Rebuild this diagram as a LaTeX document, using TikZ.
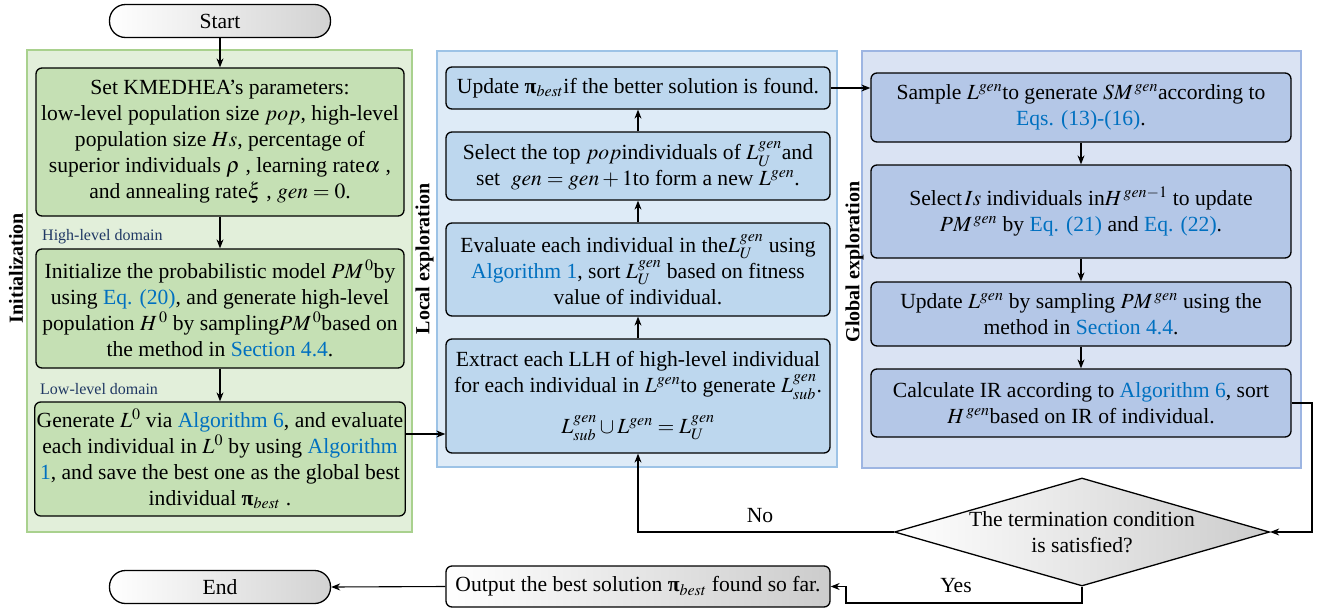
\documentclass[tikz,border=0pt]{standalone}
\usepackage{mathptmx}
\usepackage{fontspec}
\setmainfont{Liberation Serif}
\usetikzlibrary{shapes.geometric,arrows.meta}
\definecolor{gpanel}{HTML}{E2EFDA}
\definecolor{gborder}{HTML}{A9D18E}
\definecolor{gfill}{HTML}{C5E0B4}
\definecolor{mpanel}{HTML}{DEEBF7}
\definecolor{mborder}{HTML}{9DC3E6}
\definecolor{mfill}{HTML}{BDD7EE}
\definecolor{rpanel}{HTML}{DAE3F3}
\definecolor{rborder}{HTML}{9DB5E2}
\definecolor{rfill}{HTML}{B4C7E7}
\definecolor{linkblue}{HTML}{0070C0}
\definecolor{domblue}{HTML}{203864}
\newcommand{\lnk}[1]{\textcolor{linkblue}{#1}}
\newcommand{\bpi}{\mbox{\bfseries π}}
\newcommand{\bodyfont}{\fontsize{21.6}{26}\selectfont}
\begin{document}
\begin{tikzpicture}[x=1pt,y=-1pt,
  box/.style={draw=black, line width=1.3pt, rounded corners=6pt, align=center, inner sep=2pt, font=\bodyfont},
  gbox/.style={box, fill=gfill, minimum width=368pt},
  mbox/.style={box, fill=mfill, minimum width=384pt},
  rbox/.style={box, fill=rfill, minimum width=420pt},
  term/.style={draw=black, line width=1.3pt, rounded corners=16pt, left color=white, right color=gray!35, font=\bodyfont, minimum width=221pt, minimum height=33pt, inner sep=0pt},
  panel/.style={line width=2pt},
  ptitle/.style={rotate=90, font=\fontsize{20}{24}\selectfont\bfseries},
  dom/.style={anchor=west, text=domblue, font=\fontsize{16}{19}\selectfont, inner sep=0pt},
  lbl/.style={font=\bodyfont, inner sep=0pt},
  arr/.style={-{Stealth[length=9pt,width=7pt]}, line width=1.1pt}
]
\useasboundingbox (0,0) rectangle (1318,611);
% panels
\draw[panel, draw=gborder, fill=gpanel] (27,50) rectangle (412,532);
\draw[panel, draw=mborder, fill=mpanel] (437,51) rectangle (837,467);
\draw[panel, draw=rborder, fill=rpanel] (862,51) rectangle (1301,468);
\node[ptitle] (tinit) at (16,268) {Initialization};
\node[ptitle] (tlocal) at (424.5,259) {Local exploration};
\node[ptitle] (tglobal) at (854.5,262) {Global exploration};
% left column
\node[term] (start) at (220,21) {Start};
\node[gbox, minimum height=148pt] (g1) at (220,142) {Set KMEDHEA's parameters:\\ low-level population size $pop$, high-level\\ population size $Hs$, percentage of\\ superior individuals $\rho$ , learning rate$\alpha$ ,\\ and annealing rate$\xi$ , $gen=0$.};
\node[dom] (hd) at (42,237) {High-level domain};
\node[gbox, minimum height=119pt] (g2) at (220,308.5) {Initialize the probabilistic model $PM^{\,0}$by\\ using \lnk{Eq. (20)}, and generate high-level\\ population $H^{\,0}$ by sampling$PM^{\,0}$based on\\ the method in \lnk{Section 4.4}.};
\node[dom] (ld) at (40,389) {Low-level domain};
\node[gbox, minimum height=114pt] (g3) at (220,459) {Generate $L^0$ via \lnk{Algorithm 6}, and evaluate\\ each individual in $L^0$ by using \lnk{Algorithm}\\ \lnk{1}, and save the best one as the global best\\ individual $\bpi_{best}$ .};
\node[term] (end) at (220,587) {End};
% middle column
\node[mbox, minimum height=42pt] (m1) at (638,88) {Update $\bpi_{best}$if the better solution is found.};
\node[mbox, minimum height=68pt] (m2) at (638,166) {Select the top $pop$individuals of $L_U^{gen}$and\\ set \ $gen=gen+1$to form a new $L^{gen}$.};
\node[mbox, minimum height=93pt] (m3) at (638,269.5) {Evaluate each individual in the$L_U^{gen}$ using\\ \lnk{Algorithm 1}, sort $L_U^{gen}$ based on fitness\\ value of individual.};
\node[mbox, minimum height=114pt] (m4) at (638,396) {Extract each LLH of high-level individual\\ for each individual in $L^{gen}$to generate $L_{sub}^{gen}$.\\[15pt] $L_{sub}^{gen}\cup L^{gen}=L_U^{gen}$};
\node[box, minimum width=384pt, minimum height=41pt, left color=white, right color=gray!40] (out) at (638,586.5) {Output the best solution $\bpi_{best}$ found so far.};
% right column
\node[rbox, minimum height=69pt] (r1) at (1081,107.5) {Sample $L^{gen}$to generate $SM^{\,gen}$according to\\ \lnk{Eqs. (13)-(16)}.};
\node[rbox, minimum height=93pt] (r2) at (1081,211.5) {Select$\,Is$ individuals in$H^{\,gen-1}$ to update\\ $PM^{\,gen}$ by \lnk{Eq. (21)} and \lnk{Eq. (22)}.};
\node[rbox, minimum height=64pt] (r3) at (1081,314) {Update $L^{gen}$ by sampling $PM^{\,gen}$ using the\\ method in \lnk{Section 4.4}.};
\node[rbox, minimum height=68pt] (r4) at (1081,403) {Calculate IR according to \lnk{Algorithm 6}, sort\\ $H^{\,gen}$based on IR of individual.};
\node[diamond, draw=black, line width=1.3pt, minimum width=375pt, minimum height=108pt, inner sep=0pt, left color=white, right color=gray!40] (dia) at (1082,532) {};
\node[font=\bodyfont, align=center, inner sep=0pt] (diatext) at (1082,532) {The termination condition\\ is satisfied?};
% connectors
\draw[arr] (start) -- (g1);
\draw[arr] (g1) -- (g2);
\draw[arr] (g2) -- (g3);
\coordinate (ylev) at (0,434);
\draw[arr] (g3.east |- ylev) -- (m4.west |- ylev);
\draw[arr] (m4) -- (m3);
\draw[arr] (m3) -- (m2);
\draw[arr] (m2) -- (m1);
\draw[arr] (m1.east) -- (m1.east -| r1.west);
\draw[arr] (r1) -- (r2);
\draw[arr] (r2) -- (r3);
\draw[arr] (r3) -- (r4);
\coordinate (rx) at (1312,0);
\draw[arr] (r4.east) -- (r4.east -| rx) -- (dia.east -| rx) -- (dia.east);
\draw[arr] (dia.west) -- (dia.west -| m4.south) -- (m4.south);
\node[lbl] (no) at (760,516) {No};
\coordinate (ybot) at (0,603);
\coordinate (xturn) at (846,0);
\draw[arr] (dia.south) -- (dia.south |- ybot) -- (xturn |- ybot) -- (xturn |- out.east) -- (out.east);
\node[lbl] (yes) at (956,586) {Yes};
\draw[arr] (out.west) -- (end.east);
\end{tikzpicture}
\end{document}
